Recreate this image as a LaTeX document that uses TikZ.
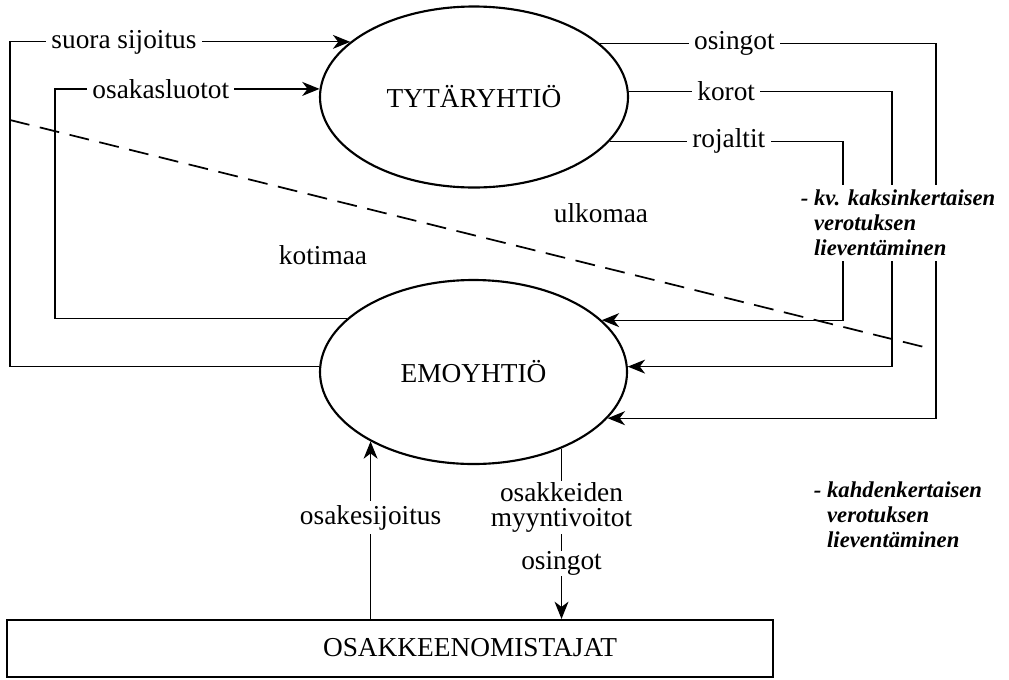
\documentclass[tikz,border=0pt]{standalone}
\usepackage{fontspec}
\setmainfont{Liberation Serif}
\usetikzlibrary{arrows.meta,shapes.geometric}

\tikzset{
    firm/.style={draw, ellipse, line width=1.6pt, inner sep=0pt},
    flow/.style={line width=0.9pt},
    arr/.style={flow, -{Stealth[length=13pt, width=10.5pt, inset=4pt]}},
    lbl/.style={fill=white, inner sep=4pt},
    note/.style={fill=white, align=left, inner xsep=2pt, inner ysep=4pt,
        font=\fontsize{17}{18.75}\selectfont\bfseries\itshape},
}

\begin{document}
\begin{tikzpicture}[x=0.75pt, y=-0.75pt, font=\fontsize{20.5}{18.75}\selectfont]
    \useasboundingbox (0,0) rectangle (1009,679);

    % Companies and owners
    \node[firm, minimum width=231pt, minimum height=135.75pt] (tyt) at (474,97) {TYTÄRYHTIÖ};
    \node[firm, minimum width=230.25pt, minimum height=138pt] (emo) at (473.5,372) {EMOYHTIÖ};
    \node[draw, line width=1.6pt, inner sep=0pt, minimum width=574.5pt, minimum height=42.75pt] (osak) at (390,648.5) {};
    \node (osaklbl) at (470,648) {OSAKKEENOMISTAJAT};

    % Border between the countries
    \coordinate (rajaA) at (10,120);
    \coordinate (rajaB) at (928,348);
    \draw[line width=1.3pt, dash pattern=on 15pt off 8pt] (rajaA) -- (rajaB);
    \node (ulko) at (601,213) {ulkomaa};
    \node (koti) at (323,255) {kotimaa};

    % Bus lines
    \coordinate (suoX) at (10,0);
    \coordinate (lutX) at (55,0);
    \coordinate (rojX) at (843,0);
    \coordinate (korX) at (892,0);
    \coordinate (osiX) at (936,0);

    % ==========================================
    % Parent -> subsidiary
    % ==========================================
    \draw[arr] (emo.178) -| (suoX |- tyt.156.4) -- node[lbl, pos=0.335] {suora sijoitus} (tyt.156.4);
    \draw[arr] (emo.157.1) -| (lutX |- tyt.177.4) -- node[lbl, pos=0.40] {osakasluotot} (tyt.177.4);

    % ==========================================
    % Subsidiary -> parent
    % ==========================================
    \draw[arr] (tyt.23.6) -- node[lbl, pos=0.40] {osingot} (tyt.23.6 -| osiX) |- (emo.341.4);
    \draw[arr] (tyt.2) -- node[lbl, pos=0.37] {korot} (tyt.2 -| korX) |- (emo.2);
    \draw[arr] (tyt.342.4) -- node[lbl, pos=0.51] {rojaltit} (tyt.342.4 -| rojX) |- (emo.22.3);
    \node[note, anchor=west] (kvnote) at (798,223) {- kv. kaksinkertaisen\\\hphantom{-\ }verotuksen\\\hphantom{-\ }lieventäminen};

    % ==========================================
    % Owners <-> parent
    % ==========================================
    \draw[arr] (osak.north -| emo.214.7) -- node[lbl, pos=0.57, inner ysep=3pt] {osakesijoitus} (emo.214.7);
    \draw[arr] (emo.319.7) -- node[lbl, pos=0.345, align=center, inner ysep=1pt] {osakkeiden\\myyntivoitot}
        node[lbl, pos=0.675, inner ysep=0.5pt] {osingot} (osak.north -| emo.319.7);
    \node[note, anchor=west] (kahnote) at (811,515) {- kahdenkertaisen\\\hphantom{-\ }verotuksen\\\hphantom{-\ }lieventäminen};

\end{tikzpicture}
\end{document}
